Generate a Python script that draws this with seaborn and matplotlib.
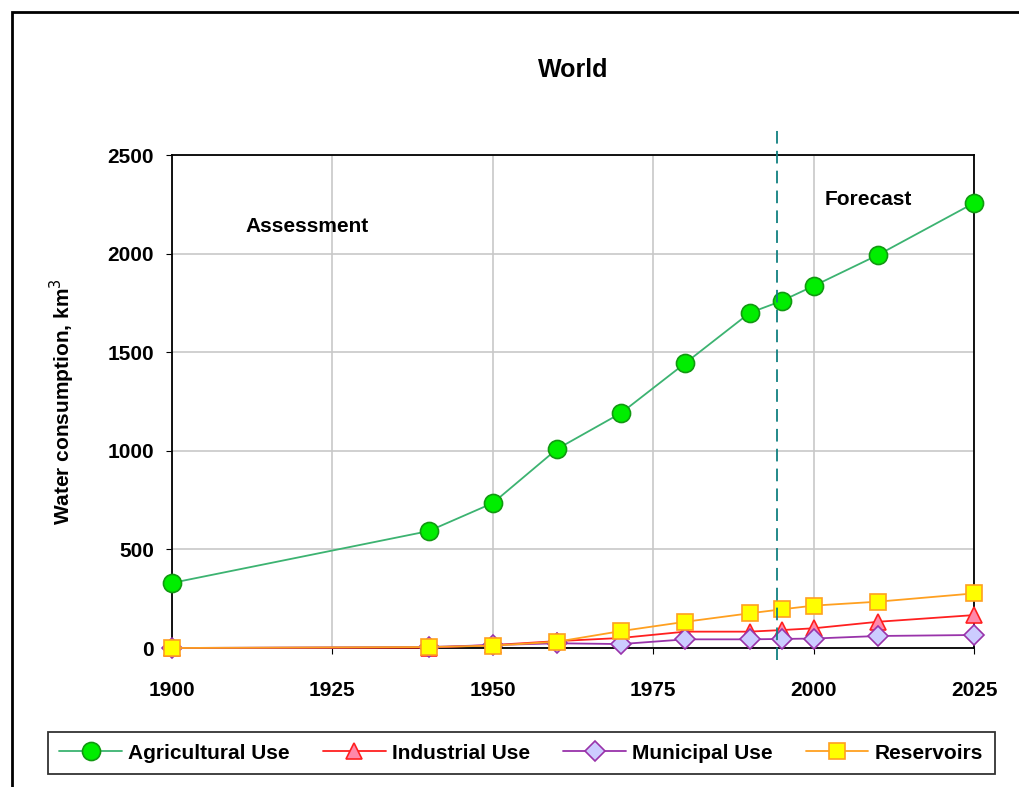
import numpy as np
import pandas as pd
import seaborn as sns
import matplotlib.pyplot as plt
from matplotlib.patches import Rectangle

# data (km3)
years = [1900, 1940, 1950, 1960, 1970, 1980, 1990, 1995, 2000, 2010, 2025]
agricultural = [330, 593, 735, 1009, 1192, 1445, 1699, 1760, 1836, 1993, 2257]
industrial = [0, 2, 15, 35, 51, 83, 83, 91, 100, 133, 167]
municipal = [0, 5, 15, 24, 20, 44, 44, 46, 48, 61, 66]
reservoirs = [0, 5, 12, 32, 86, 133, 176, 196, 215, 235, 277]

series_names = ["Agricultural Use", "Industrial Use", "Municipal Use", "Reservoirs"]
series_vals = [agricultural, industrial, municipal, reservoirs]

df = pd.DataFrame({"year": years * 4,
                   "value": sum(series_vals, []),
                   "series": np.repeat(series_names, len(years))})

sns.set_style("white")
plt.rcParams['font.family'] = ['Liberation Sans', 'DejaVu Sans']
plt.rcParams['text.color'] = 'black'
plt.rcParams['axes.labelcolor'] = 'black'

fig = plt.figure(figsize=(10.2, 7.87), dpi=100)
ax = fig.add_axes([0.1686, 0.1766, 0.7864, 0.6264])

# style per series: line colour, marker, face, edge, size
styles = {
    "Agricultural Use": ("#3cb371", "o", "#00ee00", "#119911", 13),
    "Industrial Use": ("#ff2020", "^", "#ff88aa", "#ff2020", 12),
    "Municipal Use": ("#9933aa", "D", "#ccccff", "#9933aa", 10),
    "Reservoirs": ("#ffa020", "s", "#ffff00", "#ffa020", 12),
}

for name in series_names:
    lc, mk, fc, ec, ms = styles[name]
    sns.lineplot(data=df[df["series"] == name], x="year", y="value", ax=ax,
                 color=lc, marker=mk, markerfacecolor=fc, markeredgecolor=ec,
                 markersize=ms, markeredgewidth=1.2, linewidth=1.3,
                 label=name, clip_on=False, zorder=3)

ax.set_xlim(1900, 2025)
ax.set_ylim(0, 2500)
ax.set_xticks([1900, 1925, 1950, 1975, 2000, 2025])
ax.set_yticks([0, 500, 1000, 1500, 2000, 2500])
ax.grid(True, color="#c8c8c8", linewidth=1.2)
for s in ax.spines.values():
    s.set_color("black")
    s.set_linewidth(1.3)
ax.tick_params(axis="both", labelsize=15, length=4, direction="out",
               left=True, bottom=True, colors="black")
ax.tick_params(axis="y", pad=9)
ax.tick_params(axis="x", pad=20)
for lab in ax.get_xticklabels() + ax.get_yticklabels():
    lab.set_fontweight("bold")

ax.set_xlabel("")
ax.set_ylabel("Water consumption, km$^3$", fontsize=15, fontweight="bold", labelpad=22)
ax.set_title("World", fontsize=18, fontweight="bold", pad=56)

# forecast divider
ax.axvline(1994.3, ymin=-0.025, ymax=1.057, color="#108080", linestyle=(0, (7, 4)),
           linewidth=1.3, clip_on=False, zorder=4)
ax.text(1921, 2140, "Assessment", fontsize=15, fontweight="bold", ha="center", va="center")
ax.text(2008.5, 2272, "Forecast", fontsize=15, fontweight="bold", ha="center", va="center")

ax.legend(loc="center", bbox_to_anchor=(0.511, 0.0432), bbox_transform=fig.transFigure,
          ncol=4, frameon=True, fancybox=False, edgecolor="black",
          prop={"weight": "bold", "size": 15}, handlelength=3.0, columnspacing=1.6,
          handletextpad=0.3, borderpad=0.55, borderaxespad=0)
ax.get_legend().get_frame().set_linewidth(1.3)

# outer chart border
fig.patches.append(Rectangle((12 / 1020, -0.05), 1.1, 1 - 12 / 787 + 0.05,
                             transform=fig.transFigure, fill=False,
                             edgecolor="black", linewidth=2))

fig.savefig("out.png", dpi=100)
